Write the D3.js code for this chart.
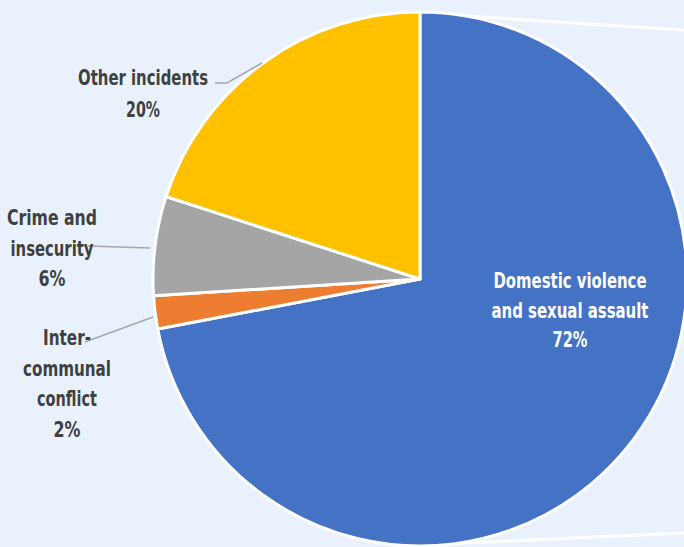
<!DOCTYPE html>
<html><head><meta charset="utf-8">
<script src="https://cdn.jsdelivr.net/npm/d3@7"></script>
<style>html,body{margin:0;padding:0;background:#E9F2FC;overflow:hidden}</style>
</head><body>
<svg id="c" width="684" height="547"></svg>
<script>
const categories = ["Domestic violence and sexual assault", "Inter-communal conflict", "Crime and insecurity", "Other incidents"];
const values = [72, 2, 6, 20];
const labelLines = [
  ["Domestic violence", "and sexual assault", "72%"],
  ["Inter-", "communal", "conflict", "2%"],
  ["Crime and", "insecurity", "6%"],
  ["Other incidents", "20%"]
];
const colors = ["#4472C4", "#ED7D31", "#A5A5A5", "#FFC000"];

// layout (positions / sizes)
const W = 684, H = 547, cx = 420, cy = 279, R = 267;
const labelLayout = [
  {x: 570, y: 288, dy: 29.5, widths: [153, 157, 35], fill: "#FFFFFF", leader: null},
  {x: 67, y: 345, dy: 30.7, widths: [48, 88, 60, 27], fill: "#404040", leader: [[85,342],[153,317]]},
  {x: 52, y: 225, dy: 30.5, widths: [90, 83, 27], fill: "#404040", leader: [[88,246],[150,248]]},
  {x: 143, y: 85, dy: 31.5, widths: [130, 34], fill: "#404040", leader: [[215,83],[227,83],[262,63]]}
];

const svg = d3.select("#c");
svg.append("rect").attr("width", W).attr("height", H).attr("fill", "#E9F2FC");

// decorative connector lines (pie-of-pie style)
const conn = svg.append("g").attr("stroke", "#FFFFFF").attr("stroke-width", 3).attr("fill", "none");
conn.append("line").attr("x1", cx).attr("y1", cy - R + 1).attr("x2", W).attr("y2", 30);
conn.append("line").attr("x1", cx).attr("y1", cy + R - 1).attr("x2", W).attr("y2", 533);

const pie = d3.pie().sort(null).value(d => d)(values);
const arc = d3.arc().innerRadius(0).outerRadius(R);

const g = svg.append("g").attr("transform", `translate(${cx},${cy})`);
g.selectAll("path").data(pie).join("path")
  .attr("d", arc)
  .attr("fill", (d, i) => colors[i])
  .attr("stroke", "#FFFFFF")
  .attr("stroke-width", 3)
  .attr("stroke-linejoin", "round");

// leader lines
svg.append("g").selectAll("polyline")
  .data(labelLayout.filter(l => l.leader))
  .join("polyline")
  .attr("points", d => d.leader.map(p => p.join(",")).join(" "))
  .attr("fill", "none").attr("stroke", "#A6A6A6").attr("stroke-width", 1.5);

// labels
const lg = svg.append("g")
  .attr("font-family", "'DejaVu Sans Condensed', 'DejaVu Sans', sans-serif")
  .attr("font-stretch", "condensed")
  .attr("font-weight", "bold")
  .attr("font-size", 20.5)
  .attr("text-anchor", "middle");
labelLines.forEach((lines, i) => {
  const L = labelLayout[i];
  lines.forEach((t, j) => {
    lg.append("text")
      .attr("x", L.x).attr("y", L.y + j * L.dy)
      .attr("fill", L.fill)
      .attr("textLength", L.widths[j])
      .attr("lengthAdjust", "spacingAndGlyphs")
      .text(t);
  });
});
</script>
</body></html>
